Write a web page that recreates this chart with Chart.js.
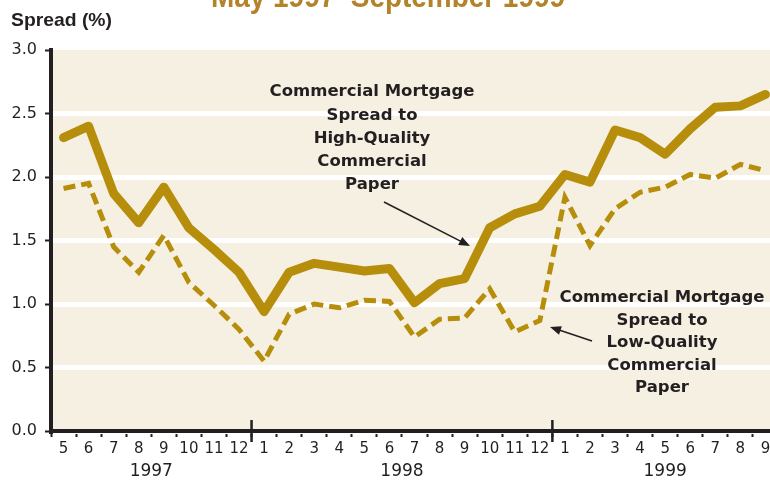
<!DOCTYPE html>
<html lang="en">
<head>
  <meta charset="UTF-8" />
  <title>Commercial Mortgage Spreads</title>
  <script src="https://cdn.jsdelivr.net/npm/chart.js"></script>
  <style>
    * { margin: 0; padding: 0; box-sizing: border-box; }
    body { background: #fff; width: 770px; height: 483px; overflow: hidden; }
    .wrap { position: relative; width: 790px; height: 483px; }
  </style>
</head>
<body>
  <div class="wrap"><canvas id="spreadChart"></canvas></div>

  <script>
    // month labels, May 1997 - September 1999
    const months = ['5', '6', '7', '8', '9', '10', '11', '12',
      '1', '2', '3', '4', '5', '6', '7', '8', '9', '10', '11', '12',
      '1', '2', '3', '4', '5', '6', '7', '8', '9'];
    const years = ['1997', '1998', '1999'];
    const monthsPerYear = [8, 12, 9];

    const highQuality = [2.31, 2.40, 1.87, 1.64, 1.92, 1.60, 1.43, 1.25, 0.94, 1.25,
      1.32, 1.29, 1.26, 1.28, 1.01, 1.16, 1.20, 1.60, 1.71, 1.77,
      2.02, 1.96, 2.37, 2.31, 2.18, 2.38, 2.55, 2.56, 2.65];
    const lowQuality = [1.91, 1.95, 1.45, 1.25, 1.54, 1.17, 0.99, 0.80, 0.55, 0.92,
      1.00, 0.97, 1.03, 1.02, 0.74, 0.88, 0.89, 1.12, 0.78, 0.87,
      1.84, 1.46, 1.75, 1.88, 1.92, 2.02, 1.99, 2.10, 2.05];
    const yTicks = [0, 0.5, 1, 1.5, 2, 2.5, 3];

    const gold = '#B68E0B';
    const ink = '#231F20';

    function arrow(c, x1, y1, x2, y2) {
      const a = Math.atan2(y2 - y1, x2 - x1);
      c.strokeStyle = ink;
      c.fillStyle = ink;
      c.lineWidth = 1.5;
      c.beginPath();
      c.moveTo(x1, y1);
      c.lineTo(x2 - 8 * Math.cos(a), y2 - 8 * Math.sin(a));
      c.stroke();
      c.beginPath();
      c.moveTo(x2, y2);
      c.lineTo(x2 - 11 * Math.cos(a) + 4.5 * Math.sin(a), y2 - 11 * Math.sin(a) - 4.5 * Math.cos(a));
      c.lineTo(x2 - 11 * Math.cos(a) - 4.5 * Math.sin(a), y2 - 11 * Math.sin(a) + 4.5 * Math.cos(a));
      c.closePath();
      c.fill();
    }

    // squeeze text to a given width
    function fitText(c, text, x, y, width) {
      const w = c.measureText(text).width;
      c.save();
      c.translate(x, y);
      c.scale(width / w, 1);
      c.fillText(text, 0, 0);
      c.restore();
    }

    const decor = {
      id: 'decor',
      beforeDraw(chart) {
        const { ctx, chartArea: a } = chart;
        ctx.save();
        ctx.fillStyle = '#F6F0E3';
        ctx.fillRect(a.left, a.top, a.right - a.left, a.bottom - a.top);
        ctx.restore();
      },
      afterDraw(chart) {
        const { ctx } = chart;
        const x = chart.scales.x;
        ctx.save();
        ctx.textAlign = 'left';
        ctx.textBaseline = 'alphabetic';

        // title (cut off at the top edge)
        ctx.fillStyle = '#B3832B';
        ctx.font = "bold 31px 'Liberation Sans', sans-serif";
        fitText(ctx, 'May 1997–September 1999', 211, 7, 354);

        // axis title
        ctx.fillStyle = ink;
        ctx.font = "bold 19px 'Liberation Sans', sans-serif";
        fitText(ctx, 'Spread (%)', 11, 26, 101);

        // year ticks and labels
        let start = 0;
        ctx.font = "17px 'DejaVu Sans', sans-serif";
        ctx.textAlign = 'center';
        monthsPerYear.forEach((n, i) => {
          const end = start + n - 1;
          const mid = (x.getPixelForValue(start) + x.getPixelForValue(end)) / 2;
          ctx.fillStyle = ink;
          ctx.fillText(years[i], mid, 476);
          if (i < monthsPerYear.length - 1) {
            const bx = (x.getPixelForValue(end) + x.getPixelForValue(end + 1)) / 2;
            ctx.strokeStyle = ink;
            ctx.lineWidth = 2.5;
            ctx.beginPath();
            ctx.moveTo(bx, 420);
            ctx.lineTo(bx, 442);
            ctx.stroke();
          }
          start += n;
        });

        // annotations
        ctx.fillStyle = ink;
        ctx.font = "bold 16.5px 'DejaVu Sans', sans-serif";
        ctx.textBaseline = 'middle';
        const note1 = ['Commercial Mortgage', 'Spread to', 'High-Quality', 'Commercial', 'Paper'];
        note1.forEach((t, i) => ctx.fillText(t, 372, 92 + i * 23.3));
        const note2 = ['Commercial Mortgage', 'Spread to', 'Low-Quality', 'Commercial', 'Paper'];
        note2.forEach((t, i) => ctx.fillText(t, 662, 298 + i * 22.5));

        arrow(ctx, 384, 202, 470, 246);
        arrow(ctx, 592, 341, 550, 327);

        ctx.restore();
      }
    };

    const chart = new Chart(document.getElementById('spreadChart'), {
      type: 'line',
      data: {
        labels: months,
        datasets: [{
          label: 'High-Quality',
          data: highQuality,
          borderColor: gold,
          borderWidth: 9,
          borderCapStyle: 'round',
          borderJoinStyle: 'round',
          pointRadius: 0,
          tension: 0
        }, {
          label: 'Low-Quality',
          data: lowQuality,
          borderColor: gold,
          borderWidth: 5,
          borderDash: [12, 6],
          pointRadius: 0,
          tension: 0
        }]
      },
      options: {
        responsive: true,
        maintainAspectRatio: false,
        animation: false,
        layout: { padding: { top: 50, right: 12, left: 0, bottom: 0 } },
        plugins: {
          legend: { display: false },
          tooltip: { enabled: false },
          title: { display: false }
        },
        scales: {
          x: {
            offset: true,
            grid: {
              offset: true,
              drawOnChartArea: false,
              tickColor: ink,
              tickWidth: 2,
              tickLength: 6
            },
            border: { color: ink, width: 4 },
            ticks: {
              color: ink,
              font: { family: 'DejaVu Sans', size: 15 },
              padding: 3,
              maxRotation: 0,
              autoSkip: false
            },
            afterFit(s) { s.height = 52; }
          },
          y: {
            min: 0,
            max: 3,
            afterBuildTicks(s) { s.ticks = yTicks.map(v => ({ value: v })); },
            grid: {
              color: c => (c.tick && c.tick.value === 3) ? 'rgba(0,0,0,0)' : '#FFFFFF',
              lineWidth: 5,
              tickColor: ink,
              tickWidth: 2,
              tickLength: 6
            },
            border: { color: ink, width: 4 },
            ticks: {
              color: ink,
              font: { family: 'DejaVu Sans', size: 16 },
              padding: 8,
              callback: v => Number(v).toFixed(1)
            },
            afterFit(s) { s.width = 51; }
          }
        }
      },
      plugins: [decor]
    });
  </script>
</body>
</html>
